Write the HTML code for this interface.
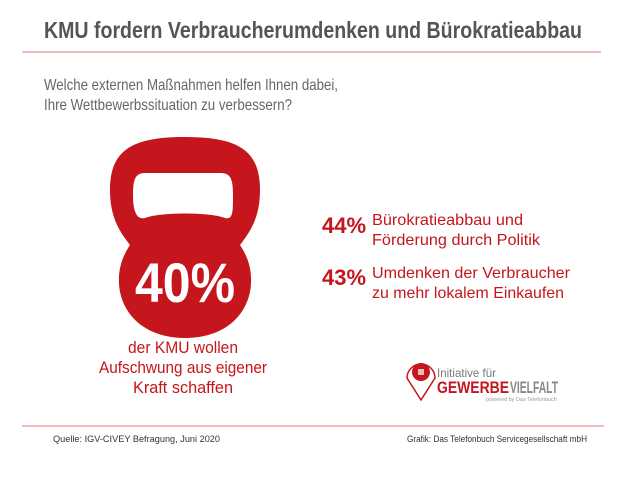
<!DOCTYPE html>
<html><head><meta charset="utf-8"><style>
body{margin:0;background:#fff;}
svg text{font-family:"Liberation Sans",sans-serif;}
</style></head><body>
<svg width="630" height="473" viewBox="0 0 630 473" xmlns="http://www.w3.org/2000/svg">
<text x="44" y="38" font-size="23" font-weight="bold" fill="#555" textLength="538" lengthAdjust="spacingAndGlyphs">KMU fordern Verbraucherumdenken und Bürokratieabbau</text>
<line x1="22" y1="52" x2="601" y2="52" stroke="#e07a7a" stroke-width="1"/>
<text x="44" y="90" font-size="16" fill="#666" textLength="294" lengthAdjust="spacingAndGlyphs">Welche externen Maßnahmen helfen Ihnen dabei,</text>
<text x="44" y="110" font-size="16" fill="#666" textLength="248" lengthAdjust="spacingAndGlyphs">Ihre Wettbewerbssituation zu verbessern?</text>
<g>
<path fill="#c4161c" fill-rule="evenodd" d="M185 137 C132 137 110 150 110 190 C110 218 120 232 130 245 C120 260 117 275 120 292 C126 320 150 338 185 338 C220 338 244 320 250 292 C253 275 250 260 240 245 C250 232 260 218 260 190 C260 150 238 137 185 137 Z M145 173 C135 173 133 180 133 195 C133 212 137 220 145 218 C160 212 210 212 225 218 C233 220 233 212 233 195 C233 180 231 173 221 173 Z"/>
<text x="185" y="302" font-size="56" font-weight="bold" fill="#fff" text-anchor="middle" textLength="100" lengthAdjust="spacingAndGlyphs">40%</text>
</g>
<g font-size="17" fill="#c4161c" text-anchor="middle">
<text x="183" y="353" textLength="110" lengthAdjust="spacingAndGlyphs">der KMU wollen</text>
<text x="183" y="373" textLength="168" lengthAdjust="spacingAndGlyphs">Aufschwung aus eigener</text>
<text x="183" y="393" textLength="100" lengthAdjust="spacingAndGlyphs">Kraft schaffen</text>
</g>
<text x="322" y="233" font-size="22" font-weight="bold" fill="#c4161c" textLength="44" lengthAdjust="spacingAndGlyphs">44%</text>
<text x="372" y="225" font-size="16" fill="#c4161c" textLength="151" lengthAdjust="spacingAndGlyphs">Bürokratieabbau und</text>
<text x="372" y="245" font-size="16" fill="#c4161c" textLength="168" lengthAdjust="spacingAndGlyphs">Förderung durch Politik</text>
<text x="322" y="285" font-size="22" font-weight="bold" fill="#c4161c" textLength="44" lengthAdjust="spacingAndGlyphs">43%</text>
<text x="372" y="278" font-size="16" fill="#c4161c" textLength="198" lengthAdjust="spacingAndGlyphs">Umdenken der Verbraucher</text>
<text x="372" y="298" font-size="16" fill="#c4161c" textLength="192" lengthAdjust="spacingAndGlyphs">zu mehr lokalem Einkaufen</text>
<g>
<path d="M421 400 L407 378 A14 14 0 1 1 435 378 Z" fill="#fff" stroke="#c4161c" stroke-width="1.5"/>
<circle cx="421" cy="372" r="9" fill="#c4161c"/>
<rect x="418" y="369" width="6" height="6" fill="#fff" opacity="0.7"/>
<text x="437" y="377" font-size="12" fill="#777" textLength="59" lengthAdjust="spacingAndGlyphs">Initiative für</text>
<text x="437" y="393" font-size="17" font-weight="bold" fill="#c4161c" textLength="72" lengthAdjust="spacingAndGlyphs">GEWERBE</text>
<text x="510" y="393" font-size="17" font-weight="bold" fill="#888" textLength="48" lengthAdjust="spacingAndGlyphs">VIELFALT</text>
<text x="486" y="401" font-size="5.5" fill="#999">powered by Das Telefonbuch</text>
</g>
<line x1="22" y1="426" x2="604" y2="426" stroke="#e07a7a" stroke-width="1"/>
<text x="53" y="442" font-size="9.5" fill="#333" textLength="167" lengthAdjust="spacingAndGlyphs">Quelle: IGV-CIVEY Befragung, Juni 2020</text>
<text x="407" y="442" font-size="9.5" fill="#333" textLength="180" lengthAdjust="spacingAndGlyphs">Grafik: Das Telefonbuch Servicegesellschaft mbH</text>
</svg>
</body></html>
